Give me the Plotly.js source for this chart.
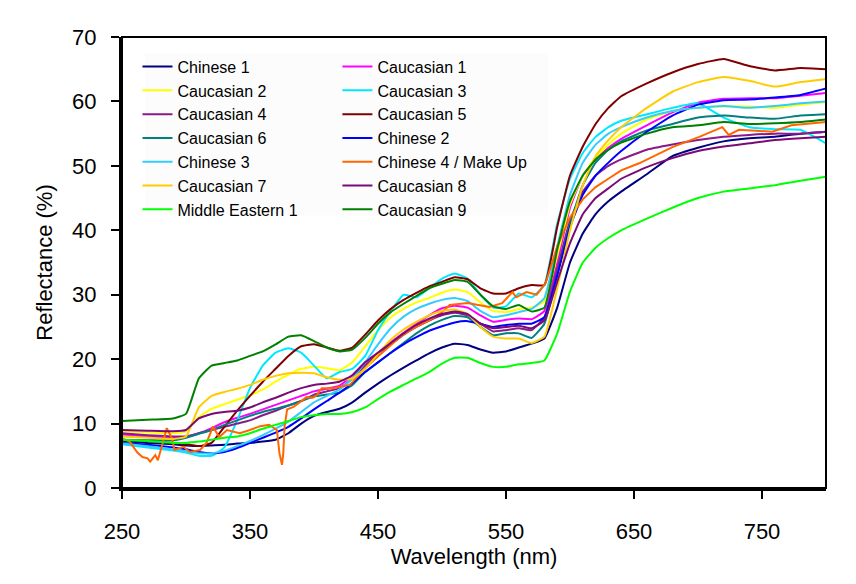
<!DOCTYPE html>
<html>
<head>
<meta charset="utf-8">
<script src="https://cdn.plot.ly/plotly-3.0.1.min.js"></script>
<style>
  html, body { margin: 0; padding: 0; background: #ffffff; }
  #chart { width: 856px; height: 584px; }
</style>
</head>
<body>
<div id="chart"></div>
<script>
// Skin reflectance spectra, wavelength in nm, reflectance in %
const wavelength = [250,270,290,300,310,320,330,340,350,360,370,380,390,400,410,420,430,440,450,460,470,480,490,500,510,520,530,540,550,560,570,580,590,600,610,620,630,640,660,680,700,720,740,760,780,800];

const chinese1 = [7.3,7.0,6.8,6.6,6.5,6.6,6.7,6.9,7.0,7.2,7.5,8.5,10.0,11.2,11.8,12.3,13.3,14.8,16.2,17.5,18.7,19.8,20.9,21.8,22.4,22.2,21.5,21.0,21.2,21.8,22.4,23.2,28.0,35.0,39.5,42.5,44.5,46.0,48.7,51.5,52.8,53.8,54.3,54.5,55.0,55.3];
const caucasian1 = [8.3,8.0,7.8,7.9,8.5,9.3,10.2,10.9,11.5,12.2,12.9,13.6,14.3,15.0,15.4,15.9,17.5,19.5,21.0,22.6,24.1,25.5,26.8,27.9,28.3,28.0,26.8,25.8,26.1,26.3,26.2,27.5,35.0,43.5,48.5,51.0,52.8,54.2,56.3,58.3,59.8,60.4,60.5,60.5,60.9,61.3];
const caucasian2 = [8.8,8.6,8.5,8.8,11.0,12.3,13.0,13.7,14.4,15.3,16.5,17.6,18.5,18.8,18.6,18.3,19.5,22.0,24.5,26.5,27.8,28.8,29.5,30.3,30.8,30.4,28.8,27.5,27.3,27.8,28.0,29.0,36.0,44.0,48.5,51.3,53.3,55.0,57.2,58.5,59.0,59.2,59.2,59.0,59.5,59.9];
const caucasian3 = [6.8,6.3,5.8,5.5,5.0,5.0,6.3,10.5,15.5,19.0,21.0,21.7,21.0,19.0,17.0,18.0,18.5,20.5,24.5,27.5,30.0,29.6,31.0,32.5,33.3,32.5,30.0,28.0,28.2,30.2,29.6,31.5,41.0,48.0,52.0,54.5,56.0,57.0,58.0,59.0,59.7,57.5,56.0,55.7,55.6,53.5];
const caucasian4 = [8.5,8.2,8.0,8.0,8.5,9.0,9.5,10.0,10.5,11.3,12.0,12.8,13.5,14.5,15.0,15.5,17.0,19.0,20.8,22.3,23.8,25.0,26.0,26.8,27.2,26.8,25.5,24.3,24.5,24.8,24.5,26.5,34.0,41.5,46.0,48.5,50.0,51.0,52.5,53.3,54.0,54.5,54.8,55.0,55.0,55.3];
const caucasian5 = [7.5,7.3,7.0,6.8,6.5,7.0,9.5,12.0,14.3,16.5,18.5,20.5,22.0,22.3,21.8,21.3,21.8,23.8,26.0,27.8,29.2,30.3,31.3,32.0,32.7,32.4,31.0,30.2,30.2,31.0,31.5,31.5,40.5,48.5,53.0,56.5,59.0,60.8,62.8,64.5,65.8,66.6,65.5,64.8,65.2,65.0];
const caucasian6 = [7.4,7.4,7.4,7.8,8.4,9.0,9.8,10.5,11.2,11.8,12.3,12.8,13.5,14.2,14.5,14.8,16.0,18.0,19.5,21.0,22.5,24.0,25.2,26.1,26.7,26.5,25.0,23.7,24.0,24.0,23.3,25.5,33.0,41.0,47.0,50.5,52.5,53.8,55.5,56.5,57.5,57.8,57.5,57.3,57.8,58.0];
const chinese2 = [7.0,6.7,6.3,6.0,5.6,5.4,5.6,6.2,7.0,7.8,8.6,9.5,10.8,12.2,13.5,14.8,16.3,18.0,19.5,21.0,22.3,23.4,24.4,25.1,25.7,25.9,25.5,25.0,25.3,25.5,25.5,26.5,33.0,40.5,45.5,48.5,50.5,52.3,55.3,57.8,59.5,60.2,60.3,60.6,61.0,62.0];
const chinese3 = [6.9,6.5,6.0,5.7,5.4,5.4,5.8,6.5,7.3,8.2,9.2,10.3,11.8,13.3,14.3,15.3,17.0,19.5,22.3,24.8,26.6,27.8,28.6,29.2,29.5,29.0,27.5,26.5,26.8,27.3,27.8,29.5,37.5,45.5,50.5,53.3,55.0,56.0,57.5,58.5,59.0,59.3,59.0,59.3,59.7,60.0];
const caucasian7 = [8.0,7.8,7.6,8.0,12.5,14.3,14.9,15.4,16.0,16.8,17.4,17.8,17.9,17.8,17.2,16.8,17.0,18.5,20.8,23.0,24.6,25.8,26.8,27.5,27.7,27.0,25.0,23.5,23.2,23.2,22.5,23.5,31.0,40.0,47.0,51.5,54.0,56.0,59.0,61.5,63.0,63.8,63.2,62.3,63.0,63.5];
const caucasian8 = [9.0,8.9,8.8,9.0,10.8,11.5,11.8,12.0,12.5,13.3,14.0,14.8,15.5,16.0,16.2,16.5,17.5,19.5,21.0,22.5,24.0,25.3,26.3,27.0,27.4,27.0,25.5,24.8,25.0,25.2,24.8,26.0,32.0,38.0,42.5,45.0,46.5,48.0,49.8,51.2,52.3,53.0,53.5,54.0,54.3,54.5];
const middleEastern1 = [7.5,7.3,7.0,7.0,7.2,7.5,7.8,8.0,8.5,9.2,9.8,10.4,11.0,11.3,11.5,11.5,11.8,12.5,13.8,15.0,16.0,17.0,18.0,19.3,20.2,20.2,19.4,18.8,18.8,19.2,19.4,19.8,24.0,30.5,35.0,37.3,38.8,40.0,41.8,43.5,45.0,46.0,46.5,47.0,47.7,48.3];
const caucasian9 = [10.4,10.6,10.8,11.5,17.0,19.0,19.4,19.8,20.5,21.2,22.3,23.5,23.7,22.8,21.8,21.2,21.5,23.3,25.5,27.3,28.6,29.8,31.0,31.7,32.3,32.0,30.0,28.2,27.8,28.4,27.4,28.0,37.0,44.5,48.5,51.0,52.5,53.6,55.0,56.0,56.3,56.8,56.5,56.6,56.8,57.2];

// The make-up sample is noisy, so it keeps its own finer wavelength list
const wavelengthMakeUp = [250,256,262,266,270,272,276,278,281,285,289,291,298,303,311,316,321,326,332,342,350,358,365,371,373,375,376,377,379,384,389,394,399,402,406,415,428,441,451,467,478,490,500,506,520,537,547,555,558,566,574,581,590,600,610,620,630,640,654,680,701,719,724,732,758,773,800];
const chinese4MakeUp = [7.7,7.2,5.5,4.8,4.6,4.1,5.1,4.3,6.4,9.3,7.7,5.9,6.4,5.6,5.9,7.0,9.5,7.9,9.0,8.5,9.0,9.6,9.8,9.0,5.4,3.6,5.4,9.5,12.2,12.6,13.3,14.1,14.0,14.4,15.5,15.5,16.0,18.8,20.6,23.4,24.8,26.0,27.3,28.4,28.7,28.1,28.7,30.4,29.6,30.4,30.0,31.8,37.5,42.0,44.8,46.7,48.0,49.3,50.4,52.9,54.5,56.0,54.8,55.6,55.3,56.3,56.8];

// Drawing order follows the legend reading order; each column has its own legend box
const series = [
  {name: 'Chinese 1',           y: chinese1,        color: '#000080', legend: 'legend'},
  {name: 'Caucasian 1',         y: caucasian1,      color: '#FF00FF', legend: 'legend2'},
  {name: 'Caucasian 2',         y: caucasian2,      color: '#FFFF00', legend: 'legend'},
  {name: 'Caucasian 3',         y: caucasian3,      color: '#00E8FF', legend: 'legend2'},
  {name: 'Caucasian 4',         y: caucasian4,      color: '#8A1A8A', legend: 'legend'},
  {name: 'Caucasian 5',         y: caucasian5,      color: '#800000', legend: 'legend2'},
  {name: 'Caucasian 6',         y: caucasian6,      color: '#008080', legend: 'legend'},
  {name: 'Chinese 2',           y: chinese2,        color: '#0000FF', legend: 'legend2'},
  {name: 'Chinese 3',           y: chinese3,        color: '#33CCFF', legend: 'legend'},
  {name: 'Chinese 4 / Make Up', y: chinese4MakeUp,  color: '#FF6600', legend: 'legend2', x: wavelengthMakeUp, linear: true},
  {name: 'Caucasian 7',         y: caucasian7,      color: '#FFCC00', legend: 'legend'},
  {name: 'Caucasian 8',         y: caucasian8,      color: '#7A0A78', legend: 'legend2'},
  {name: 'Middle Eastern 1',    y: middleEastern1,  color: '#00FF00', legend: 'legend'},
  {name: 'Caucasian 9',         y: caucasian9,      color: '#008000', legend: 'legend2'}
];

const traces = series.map(s => ({
  type: 'scatter',
  mode: 'lines',
  name: s.name,
  x: s.x || wavelength,
  y: s.y,
  legend: s.legend,
  line: {color: s.color, width: 2, shape: s.linear ? 'linear' : 'spline', smoothing: 0.4}
}));

const baseFont = {family: 'Liberation Sans, Arial, sans-serif', color: '#000000'};

const legendCommon = {
  yref: 'paper', xref: 'paper',
  y: 0.972, yanchor: 'top', xanchor: 'left',
  bgcolor: 'rgba(0,0,0,0)', borderwidth: 0,
  font: Object.assign({}, baseFont, {size: 16}),
  tracegroupgap: 0, itemwidth: 30
};

const layout = {
  width: 856, height: 584,
  margin: {l: 122, r: 30, t: 37, b: 96},
  paper_bgcolor: '#ffffff', plot_bgcolor: '#ffffff',
  font: baseFont,
  showlegend: true,
  legend: Object.assign({}, legendCommon, {x: 0.022}),
  legend2: Object.assign({}, legendCommon, {x: 0.306}),
  xaxis: {
    range: [250, 800], tick0: 250, dtick: 100,
    ticks: 'outside', ticklen: 8, tickwidth: 2, tickcolor: '#000000',
    showline: true, linewidth: 3, linecolor: '#000000',
    showgrid: false, zeroline: false,
    tickfont: Object.assign({}, baseFont, {size: 22}),
    ticklabelstandoff: 14,
    title: {text: 'Wavelength (nm)', font: Object.assign({}, baseFont, {size: 22}), standoff: 2}
  },
  yaxis: {
    range: [0, 70], dtick: 10,
    ticks: 'outside', ticklen: 8, tickwidth: 2, tickcolor: '#000000',
    showline: true, linewidth: 3, linecolor: '#000000',
    showgrid: false, zeroline: false,
    tickfont: Object.assign({}, baseFont, {size: 22}),
    ticklabelstandoff: 10,
    title: {text: 'Reflectance (%)', font: Object.assign({}, baseFont, {size: 22}), standoff: 14}
  },
  shapes: [
    // light panel behind the legend columns
    {type: 'rect', xref: 'paper', yref: 'paper', x0: 0.033, x1: 0.605, y0: 0.605, y1: 0.9645,
     fillcolor: '#fcfcfc', line: {width: 0}, layer: 'below'},
    // frame around the plotting area
    {type: 'rect', xref: 'paper', yref: 'paper', x0: 0, x1: 1, y0: 0, y1: 1,
     line: {color: '#000000', width: 2}, fillcolor: 'rgba(0,0,0,0)', layer: 'above'}
  ]
};

Plotly.newPlot('chart', traces, layout, {displayModeBar: false, staticPlot: true});
</script>
</body>
</html>
